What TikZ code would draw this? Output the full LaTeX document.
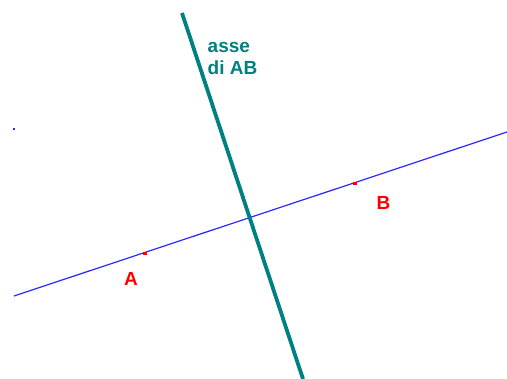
\documentclass[tikz,border=0pt]{standalone}
\usepackage{fontspec}
\setmainfont{Liberation Sans}
\definecolor{asse_teal}{RGB}{0,128,128}
\definecolor{line_blue}{RGB}{40,40,255}
\tikzset{
    pt_node/.style={fill=red, inner sep=0pt, minimum width=4pt, minimum height=3pt},
    pt_label/.style={text=red, font=\bfseries\fontsize{19}{22}\selectfont, inner sep=0pt},
    blue_line/.style={line width=1.2pt, line_blue},
    axis_line/.style={line width=3.8pt, asse_teal},
    axis_label/.style={text=asse_teal, font=\bfseries\fontsize{19}{22}\selectfont, align=left, inner sep=0pt}
}
\begin{document}
\begin{tikzpicture}[x=1pt, y=-1pt]
        \useasboundingbox (0,0) rectangle (507,379);
        % retta AB
        \coordinate (r1) at (14,296);
        \coordinate (r2) at (507,132);
        \draw[blue_line] (r1) -- (r2);
        \fill[line_blue] (13,128) rectangle (15,130);
        % asse
        \coordinate (s1) at (182,13);
        \coordinate (s2) at (303,379);
        \draw[axis_line] (s1) -- (s2);
        \node[axis_label] (asse) at (232.5,58) {asse\\di AB};
        % punti
        \node[pt_node] (A) at (144.5,253.3) {};
        \node[pt_node] (B) at (355,183.3) {};
        \node[pt_label] (labA) at (131,278.5) {A};
        \node[pt_label] (labB) at (383.5,202.5) {B};
    \end{tikzpicture}
\end{document}
